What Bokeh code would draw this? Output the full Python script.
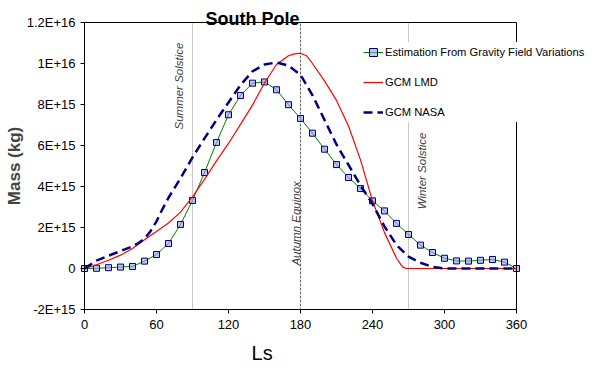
from bokeh.plotting import figure
from bokeh.models import (Range1d, FixedTicker, Label, Legend, LegendItem, LinearAxis,
                          BoxAnnotation)
from bokeh.embed import file_html
from bokeh.resources import INLINE
import math

# ---- data (mass in units of 1E15 kg) ----
ls_est = [0, 10, 20, 30, 40, 50, 60, 70, 80, 90, 100, 110, 120, 130, 140, 150, 160, 170, 180,
          190, 200, 210, 220, 230, 240, 250, 260, 270, 280, 290, 300, 310, 320, 330, 340, 350, 360]
mass_est = [0.0, 0.01, 0.04, 0.07, 0.1, 0.36, 0.68, 1.22, 2.15, 3.32, 4.68, 6.15, 7.5, 8.44, 9.04, 9.1,
            8.72, 7.99, 7.32, 6.6, 5.82, 5.07, 4.44, 3.9, 3.3, 2.81, 2.2, 1.66, 1.14, 0.78, 0.5, 0.37,
            0.36, 0.4, 0.44, 0.31, 0.0]

ls_lmd = [0, 10, 20, 30, 40, 50, 60, 70, 80, 90, 100, 110, 120, 130, 140, 150, 160, 170, 175, 180,
          185, 190, 200, 210, 220, 230, 240, 250, 260, 265, 268, 360]
mass_lmd = [0.0, 0.18, 0.4, 0.65, 0.98, 1.4, 1.8, 2.22, 2.75, 3.5, 4.35, 5.25, 6.1, 7.03, 7.97, 9.05,
            9.95, 10.38, 10.47, 10.5, 10.38, 10.0, 9.15, 8.2, 6.95, 5.3, 3.3, 1.75, 0.5, 0.08, 0.0, 0.0]

ls_nasa = [0, 10, 20, 30, 40, 45, 50, 55, 60, 65, 70, 80, 90, 100, 110, 120, 130, 140, 150, 160, 170,
           180, 190, 200, 210, 220, 230, 240, 250, 260, 270, 280, 290, 300, 360]
mass_nasa = [0.0, 0.38, 0.62, 0.85, 1.08, 1.24, 1.45, 1.82, 2.3, 2.9, 3.45, 4.4, 5.42, 6.35, 7.25, 8.1,
             8.95, 9.62, 9.95, 10.05, 9.9, 9.45, 8.45, 7.25, 6.05, 5.05, 4.05, 3.15, 2.05, 1.15, 0.58,
             0.28, 0.08, 0.0, 0.0]

season_ls = [90, 180, 270]
season_names = ["Summer Solstice", "Autumn Equinox", "Winter Solstice"]

x_ticks = [0, 60, 120, 180, 240, 300, 360]
y_ticks = [-2e15, 0, 2e15, 4e15, 6e15, 8e15, 1e16, 1.2e16]
y_tick_labels = ["-2E+15", "0", "2E+15", "4E+15", "6E+15", "8E+15", "1E+16", "1.2E+16"]

series_names = ["Estimation From Gravity Field Variations", "GCM LMD", "GCM NASA"]

UNIT = 1e15
FONT = "Liberation Sans"

W, H = 590, 366
# plot box in screen pixels: left 84, right 516, top 22, bottom 309
px_per_ls = 432 / 360.0
px_per_mass = 287 / 1.4e16
x_start = 0 - 84 / px_per_ls
x_end = 360 + (W - 516) / px_per_ls
y_end = 1.2e16 + 22 / px_per_mass
y_start = -2e15 - (H - 309) / px_per_mass

p = figure(width=W, height=H, output_backend="svg", toolbar_location=None,
           x_range=Range1d(x_start, x_end), y_range=Range1d(y_start, y_end),
           x_axis_location=None, y_axis_location=None,
           min_border=0, min_border_left=0, min_border_right=0,
           min_border_top=0, min_border_bottom=0)
p.grid.visible = False
p.outline_line_color = None
p.background_fill_color = "white"
p.border_fill_color = "white"

xaxis = LinearAxis(fixed_location=y_ticks[0], bounds=(x_ticks[0], x_ticks[-1]),
                   ticker=FixedTicker(ticks=x_ticks))
yaxis = LinearAxis(fixed_location=x_ticks[0], bounds=(y_ticks[0], y_ticks[-1]),
                   ticker=FixedTicker(ticks=y_ticks))
for ax in (xaxis, yaxis):
    ax.axis_line_color = "black"
    ax.major_tick_line_color = "black"
    ax.major_tick_in = 0
    ax.major_tick_out = 4
    ax.minor_tick_line_color = None
    ax.major_label_text_font = FONT
    ax.major_label_text_font_size = "13px"
    ax.major_label_text_color = "black"
xaxis.major_label_standoff = 6
yaxis.major_label_overrides = {t: l for t, l in zip(y_ticks, y_tick_labels)}
yaxis.major_label_standoff = 5
yaxis.axis_label = "Mass (kg)"
yaxis.axis_label_text_font = FONT
yaxis.axis_label_text_font_style = "bold"
yaxis.axis_label_text_font_size = "17px"
yaxis.axis_label_standoff = 0
p.add_layout(xaxis, "below")
p.add_layout(yaxis, "left")

# season reference lines
n = len(season_ls)
p.segment(x0=season_ls, y0=[y_ticks[0]] * n, x1=season_ls, y1=[y_ticks[-1]] * n,
          line_color="#c8c8c8", line_width=1)
p.segment(x0=season_ls[1:2], y0=y_ticks[:1], x1=season_ls[1:2], y1=y_ticks[-1:],
          line_color="black", line_width=1, line_dash="1 3")

# series
r_est_line = p.line(ls_est, [v * UNIT for v in mass_est],
                    line_color="#008000", line_width=1)
r_est_pts = p.scatter(ls_est, [v * UNIT for v in mass_est], marker="square",
                      size=6, line_color="#000080", line_width=1,
                      fill_color="#9999ff", fill_alpha=0.6)
r_lmd = p.line(ls_lmd, [v * UNIT for v in mass_lmd], line_color="#ff0000", line_width=1.2)
r_nasa = p.line(ls_nasa, [v * UNIT for v in mass_nasa], line_color="#000080",
                line_width=2.5, line_dash="9 5")

# plot box border
p.add_layout(BoxAnnotation(left=x_ticks[0], right=x_ticks[-1], bottom=y_ticks[0], top=y_ticks[-1],
                           fill_alpha=0, line_color="black", line_width=1, line_alpha=1))

label_y = [8.9e15, 2.2e15, 4.76e15]
label_dx = [-14, -5, 13]
for s, name, yy, dx in zip(season_ls, season_names, label_y, label_dx):
    p.add_layout(Label(x=s, y=yy, text=name, angle=math.pi / 2, x_offset=dx,
                       text_align="center", text_baseline="middle",
                       text_font="'Liberation Sans Narrow', 'Liberation Sans'",
                       text_font_style="italic", text_font_size="11.5px",
                       text_color="#404040"))

legend = Legend(items=[
    LegendItem(label=series_names[0], renderers=[r_est_line, r_est_pts]),
    LegendItem(label=series_names[1], renderers=[r_lmd]),
    LegendItem(label=series_names[2], renderers=[r_nasa]),
], location=(363, H - 122), orientation="vertical")
legend.background_fill_color = "white"
legend.background_fill_alpha = 1
legend.border_line_color = None
legend.padding = 4
legend.margin = 0
legend.spacing = 10
legend.glyph_height = 20
legend.glyph_width = 20
legend.label_standoff = 2
legend.label_text_font = FONT
legend.label_text_font_size = "11.2px"
legend.label_text_color = "black"
p.add_layout(legend)

# title and x label
p.add_layout(Label(x=140, y=y_ticks[-1], text="South Pole", y_offset=4,
                   text_align="center", text_baseline="alphabetic",
                   text_font=FONT, text_font_style="bold", text_font_size="18px",
                   text_color="black"))
p.add_layout(Label(x=148, y=y_ticks[0], text="Ls", y_offset=-43,
                   text_align="center", text_baseline="middle",
                   text_font=FONT, text_font_size="20px", text_color="black"))

open("out.html", "w").write(file_html(p, INLINE))
